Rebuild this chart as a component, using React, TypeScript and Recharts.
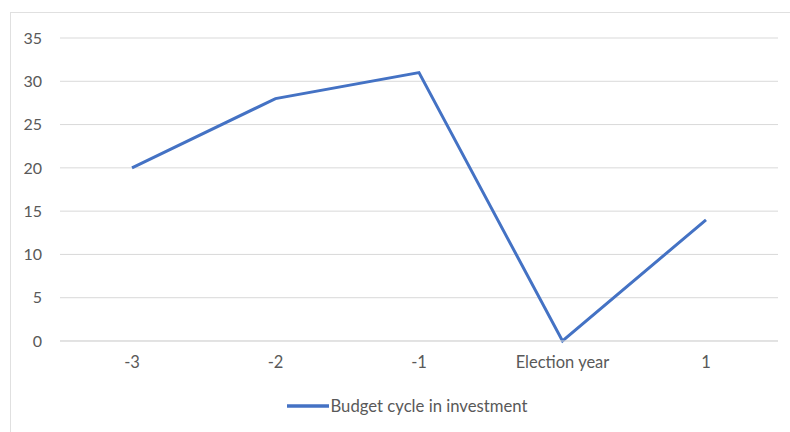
import React from "react";
import { CartesianGrid, Line, LineChart, XAxis, YAxis } from "recharts";

const years = ["-3", "-2", "-1", "Election year", "1"];
const investment = [20, 28, 31, 0, 14];
const yTicks = [0, 5, 10, 15, 20, 25, 30, 35];
const seriesName = "Budget cycle in investment";

const data = years.map((year, i) => ({ year, investment: investment[i] }));

const FONT = "Lato, 'Open Sans', sans-serif";
const TEXT = "#595959";
const GRID = "#d9d9d9";
const BLUE = "#4472c4";

export default function App() {
  return (
    <div style={{ position: "fixed", left: 0, top: 0, width: 790, height: 432, background: "#fff", overflow: "hidden" }}>
      <div
        style={{
          position: "absolute",
          left: 10,
          top: 12,
          width: 800,
          height: 440,
          border: "1px solid #e0e0e0",
          boxSizing: "border-box",
        }}
      />
      <div style={{ position: "absolute", left: 0, top: 0 }}>
        <LineChart width={790} height={432} data={data} margin={{ top: 38, right: 12, left: 20, bottom: 0 }}>
          <CartesianGrid vertical={false} stroke={GRID} />
          <XAxis
            dataKey="year"
            padding={{ left: 72, right: 72 }}
            axisLine={{ stroke: GRID }}
            tickLine={false}
            tickSize={0}
            tickMargin={15}
            height={91}
            tick={{ fill: TEXT, fontSize: 16.5, fontFamily: FONT }}
          />
          <YAxis
            width={40}
            domain={[0, 35]}
            ticks={yTicks}
            axisLine={false}
            tickLine={false}
            tickSize={0}
            tickMargin={18}
            tick={{ fill: TEXT, fontSize: 16, fontFamily: FONT }}
          />
          <Line
            type="linear"
            dataKey="investment"
            name={seriesName}
            stroke={BLUE}
            strokeWidth={3}
            dot={false}
            activeDot={false}
            isAnimationActive={false}
          />
        </LineChart>
      </div>
      {/* legend row under the plot */}
      <div
        style={{
          position: "absolute",
          left: 12,
          top: 396,
          width: 790,
          display: "flex",
          justifyContent: "center",
          alignItems: "center",
          fontFamily: FONT,
          fontSize: 16.7,
          color: TEXT,
        }}
      >
        <svg width={42} height={6} style={{ marginRight: 2 }}>
          <line x1={0} y1={3} x2={42} y2={3} stroke={BLUE} strokeWidth={3.5} />
        </svg>
        <span>{seriesName}</span>
      </div>
    </div>
  );
}
